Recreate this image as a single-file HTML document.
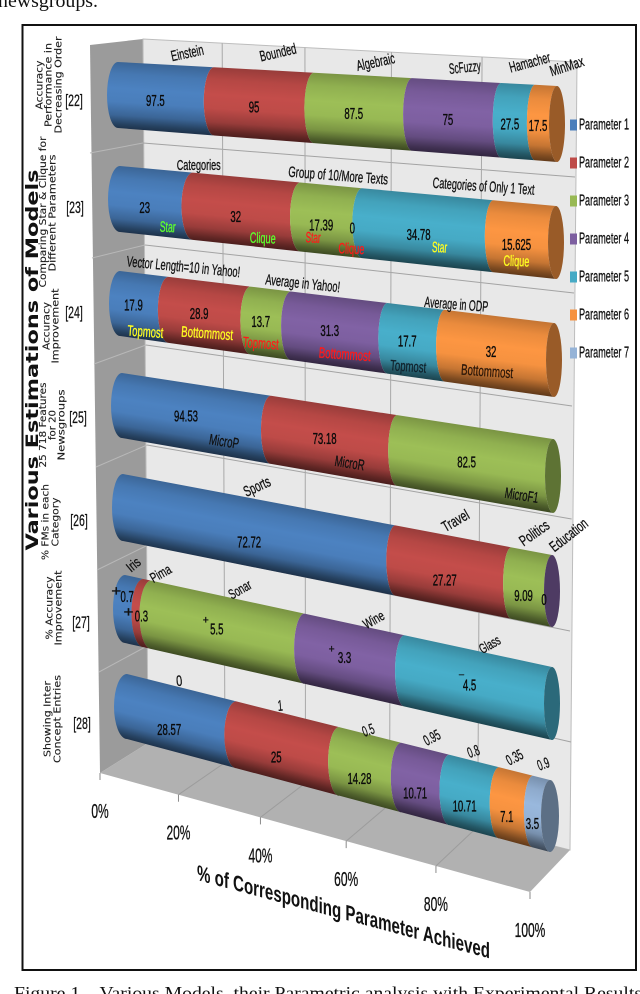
<!DOCTYPE html>
<html lang="en">
<head>
<meta charset="utf-8">
<title>Various Estimations of Models</title>
<style>
  html, body { margin: 0; padding: 0; background: #fff; }
  #stage { display: block; width: 640px; height: 994px; overflow: hidden; }
  text { font-family: "Liberation Sans", sans-serif; fill: #111; }
  .rowtitle { font-family: "DejaVu Sans", sans-serif; font-size: 9.6px; fill: #1c1c1c; stroke: #1c1c1c; stroke-width: 0.12px; text-anchor: middle; }
  .serif { font-family: "Liberation Serif", serif; fill: #111; }
</style>
</head>
<body>
<svg id="stage" xmlns="http://www.w3.org/2000/svg" width="640" height="994" viewBox="0 0 640 994">
  <defs id="defs"></defs>
  <text class="serif" x="-2" y="7" font-size="19" textLength="100" lengthAdjust="spacingAndGlyphs">newsgroups.</text>
  <rect x="22.5" y="25" width="613.5" height="945" fill="#fff" stroke="#111" stroke-width="2"/>

  <g id="plot-back"></g>
  <g id="plot-rows"></g>
  <g id="plot-text"></g>
  <g id="legend"></g>

  <text transform="translate(38,360) rotate(-90)" style="font-family:'DejaVu Sans',sans-serif" font-size="17" font-weight="700" text-anchor="middle" textLength="381" lengthAdjust="spacingAndGlyphs">Various Estimations of Models</text>

  <g>
    <text class="rowtitle" transform="translate(42.5,85) rotate(-90)" textLength="49" lengthAdjust="spacingAndGlyphs">Accuracy</text>
    <text class="rowtitle" transform="translate(51.5,85) rotate(-90)" textLength="84" lengthAdjust="spacingAndGlyphs">Performance in</text>
    <text class="rowtitle" transform="translate(61.5,85) rotate(-90)" textLength="97" lengthAdjust="spacingAndGlyphs">Decreasing Order</text>
  </g>
  <g>
    <text class="rowtitle" transform="translate(46,212) rotate(-90)" textLength="151" lengthAdjust="spacingAndGlyphs">Comparing Star &amp; Clique for</text>
    <text class="rowtitle" transform="translate(55.5,213) rotate(-90)" textLength="117" lengthAdjust="spacingAndGlyphs">Different Parameters</text>
  </g>
  <g>
    <text class="rowtitle" transform="translate(49.5,326) rotate(-90)" textLength="48" lengthAdjust="spacingAndGlyphs">Accuracy</text>
    <text class="rowtitle" transform="translate(58.5,326) rotate(-90)" textLength="75" lengthAdjust="spacingAndGlyphs">Improvement</text>
  </g>
  <g>
    <text class="rowtitle" transform="translate(46,425) rotate(-90)" textLength="85" lengthAdjust="spacingAndGlyphs">25 718 Features</text>
    <text class="rowtitle" transform="translate(55.5,425) rotate(-90)" textLength="30" lengthAdjust="spacingAndGlyphs">for 20</text>
    <text class="rowtitle" transform="translate(64.5,425) rotate(-90)" textLength="71" lengthAdjust="spacingAndGlyphs">Newsgroups</text>
  </g>
  <g>
    <text class="rowtitle" transform="translate(48.5,522) rotate(-90)" textLength="76" lengthAdjust="spacingAndGlyphs">% FMs in each</text>
    <text class="rowtitle" transform="translate(58.5,522) rotate(-90)" textLength="49" lengthAdjust="spacingAndGlyphs">Category</text>
  </g>
  <g>
    <text class="rowtitle" transform="translate(52.5,608) rotate(-90)" textLength="63" lengthAdjust="spacingAndGlyphs">% Accuracy</text>
    <text class="rowtitle" transform="translate(61.5,608) rotate(-90)" textLength="75" lengthAdjust="spacingAndGlyphs">Improvement</text>
  </g>
  <g>
    <text class="rowtitle" transform="translate(50.5,719) rotate(-90)" textLength="76" lengthAdjust="spacingAndGlyphs">Showing Inter</text>
    <text class="rowtitle" transform="translate(60.5,719) rotate(-90)" textLength="88" lengthAdjust="spacingAndGlyphs">Concept Entries</text>
  </g>

  <text transform="translate(197,880) skewY(15)" font-size="22" font-weight="700" textLength="293" lengthAdjust="spacingAndGlyphs">% of Corresponding Parameter Achieved</text>

  <text class="serif" x="14" y="999" font-size="18" textLength="628" lengthAdjust="spacingAndGlyphs" xml:space="preserve">Figure 1.   Various Models, their Parametric analysis with Experimental Results</text>

<script>
// ---------- chart data ----------
const seriesNames = ['Parameter 1','Parameter 2','Parameter 3','Parameter 4','Parameter 5','Parameter 6','Parameter 7'];
const xTickLabels = ['0%','20%','40%','60%','80%','100%'];
const xTickFractions = [0, 0.2, 0.4, 0.6, 0.8, 1];
const rowRefs = ['[22]','[23]','[24]','[25]','[26]','[27]','[28]'];

const row22Values = [97.5, 95, 87.5, 75, 27.5, 17.5];
const row23Values = [23, 32, 17.39, 0, 34.78, 15.625];
const row24Values = [17.9, 28.9, 13.7, 31.3, 17.7, 32];
const row25Values = [94.53, 73.18, 82.5];
const row26Values = [72.72, 27.27, 9.09, 0];
const row27Values = [0.7, 0.3, 5.5, 3.3, 4.5];
const row28Values = [28.57, 25, 14.28, 10.71, 10.71, 7.1, 3.5];

const row22Categories = ['Einstein','Bounded','Algebraic','ScFuzzy','Hamacher','MinMax'];
const row23Groups = ['Categories','Group of 10/More Texts','Categories of Only 1 Text'];
const row23Marks = ['Star','Clique','Star','Clique','Star','Clique'];
const row24Groups = ['Vector Length=10 in Yahoo!','Average in Yahoo!','Average in ODP'];
const row24Marks = ['Topmost','Bottommost','Topmost','Bottommost','Topmost','Bottommost'];
const row25Marks = ['MicroP','MicroR','MicroF1'];
const row26Categories = ['Sports','Travel','Politics','Education'];
const row27Categories = ['Iris','Pima','Sonar','Wine','Glass'];
const row27Signs = ['+','+','+','+','¯'];
const row28Categories = ['0','1','0.5','0.95','0.8','0.35','0.9'];

// ---------- layout (not data) ----------
const palette = ['#4a7ebb','#be4b48','#98b954','#7d5fa0','#46aac5','#f69240','#95b3d7'];
const rowLayout = [
  {xL:118,topL:62, botL:128,xR:557,topR:86, botR:162,rxL:11,rxR:8,dy:3,  refX:74,refY:100},
  {xL:120,topL:166,botL:232,xR:556,topR:206,botR:279,rxL:12,rxR:8,dy:6,  refX:75,refY:207},
  {xL:120,topL:271,botL:336,xR:554,topR:323,botR:397,rxL:11,rxR:8,dy:0,  refX:74,refY:312},
  {xL:122,topL:373,botL:438,xR:553,topR:439,botR:513,rxL:11,rxR:8,dy:0,  refX:78,refY:417},
  {xL:123,topL:474,botL:541,xR:552,topR:555,botR:627,rxL:11,rxR:8,dy:10, refX:79,refY:520},
  {xL:125,topL:575,botL:643,xR:552,topR:667,botR:740,rxL:12,rxR:8,dy:0,  refX:81,refY:622},
  {xL:127,topL:674,botL:739,xR:550,topR:780,botR:852,rxL:13,rxR:9,dy:12, refX:82,refY:723}
];
// extra label displacement for the two thin segments at the start of row [27]
const row27LabelNudge = [[5,-12],[6,5]];
const PERSPECTIVE = 1.15;
const FLOOR_PERSPECTIVE = 1.12;

const svg = document.getElementById('stage');
const NS = 'http://www.w3.org/2000/svg';
const defs = document.getElementById('defs');
const backLayer = document.getElementById('plot-back');
const rowLayer = document.getElementById('plot-rows');
const textLayer = document.getElementById('plot-text');
const legendLayer = document.getElementById('legend');

function make(tag, parent, name, attrs) {
  const el = document.createElementNS(NS, tag);
  
  
  for (const k in attrs) el.setAttribute(k, attrs[k]);
  parent.appendChild(el);
  return el;
}
function shade(hex, f) {
  const n = parseInt(hex.slice(1), 16);
  const c = [n >> 16, (n >> 8) & 255, n & 255].map(v => Math.max(0, Math.min(255, Math.round(v * f))));
  return 'rgb(' + c.join(',') + ')';
}
function lerp(a, b, f) { return a + (b - a) * f; }
function persp(t, k) { return t / (t + k * (1 - t)); }
function ink(el, color, w) {
  el.style.fill = color;
  el.style.stroke = color;
  el.style.strokeWidth = w + 'px';
}

// row axis: cumulative share -> screen geometry of the cylinder cross-section
function rowPoint(r, t) {
  const f = persp(t, PERSPECTIVE);
  return {
    x: lerp(r.xL, r.xR, f),
    top: lerp(r.topL, r.topR, f),
    bot: lerp(r.botL, r.botR, f),
    rx: lerp(r.rxL, r.rxR, f)
  };
}

// ---------- background: walls, floor, gridlines ----------
const wallBack = {xT0:143,yT0:39,xT1:577,yT1:62,xB0:148,yB0:743,xB1:570,yB1:850};
const floorFront = {x0:100,y0:773,x1:530,y1:892};
make('polygon', backLayer, 'side-wall', {points:'90,45 143,39 148,743 100,773', fill:'#9b9b9b'});
make('polygon', backLayer, 'back-wall', {points:'143,39 577,62 570,850 148,743', fill:'#e8e8e8', stroke:'#bdbdbd', 'stroke-width':1});
make('polygon', backLayer, 'floor', {points:'100,773 148,743 570,850 530,892', fill:'#b1b1b1'});

const dividerLeft = [[90,153,143,143],[92,258,145,245],[94,364,146,345],[96,467,147,445],[97,570,148,545],[99,672,149,645]];
const dividerRight = [[575,177],[574,293],[572,406],[571.6,519],[570,631],[571,742]];
dividerLeft.forEach(function (d, i) {
  make('line', backLayer, 'side-wall-divider', {x1:d[0], y1:d[1], x2:d[2], y2:d[3], stroke:'#b8b8b8', 'stroke-width':1});
  make('line', backLayer, 'back-wall-divider', {x1:d[2], y1:d[3], x2:dividerRight[i][0], y2:dividerRight[i][1], stroke:'#a3a3a3', 'stroke-width':1});
});

xTickFractions.forEach(function (v, i) {
  const f = persp(v, FLOOR_PERSPECTIVE);
  const topX = lerp(wallBack.xT0, wallBack.xT1, f), topY = lerp(wallBack.yT0, wallBack.yT1, f);
  const backX = lerp(wallBack.xB0, wallBack.xB1, f), backY = lerp(wallBack.yB0, wallBack.yB1, f);
  const frontX = lerp(floorFront.x0, floorFront.x1, f), frontY = lerp(floorFront.y0, floorFront.y1, f);
  if (i > 0 && i < xTickFractions.length - 1) {
    make('line', backLayer, 'wall-gridline', {x1:topX, y1:topY, x2:backX, y2:backY, stroke:'#a8a8a8', 'stroke-width':1});
    make('line', backLayer, 'floor-gridline', {x1:backX, y1:backY, x2:frontX, y2:frontY, stroke:'#9c9c9c', 'stroke-width':1});
  }
  make('line', backLayer, 'x-tick', {x1:frontX, y1:frontY, x2:frontX, y2:frontY + 7, stroke:'#8a8a8a', 'stroke-width':1});
  const lab = make('text', textLayer, 'x-tick-label', {
    transform:'translate(' + frontX + ',' + (frontY + 45) + ') scale(0.6,1)',
    'font-size':20, 'text-anchor':'middle'
  });
  ink(lab, '#111', 0.3);
  lab.textContent = xTickLabels[i];
});

// ---------- stacked cylinders ----------
const centers = [];
let gradId = 0;
function drawRow(rowIndex, values, nudge) {
  const r = rowLayout[rowIndex];
  const total = values.reduce((a, b) => a + b, 0);
  const group = make('g', rowLayer, 'row-' + (22 + rowIndex), {});
  const rowCenters = [];
  let cum = 0;
  values.forEach(function (v, i) {
    const p0 = rowPoint(r, cum / total);
    cum += v;
    const p1 = rowPoint(r, cum / total);
    const axisAngle = Math.atan2((r.topR + r.botR - r.topL - r.botL) / 2, r.xR - r.xL);
    const mx = (p0.x + p1.x) / 2, mt = (p0.top + p1.top) / 2, mb = (p0.bot + p1.bot) / 2, h = mb - mt;
    const midRx = (p0.rx + p1.rx) / 2;
    const cx = mx - midRx;
    const cf = (cx - r.xL) / (r.xR - r.xL);
    const cTop = lerp(r.topL, r.topR, cf), cBot = lerp(r.botL, r.botR, cf);
    const nd = (nudge && nudge[i]) || [0, 0];
    rowCenters.push({x: cx + nd[0], y: (cTop + cBot) / 2 + r.dy + nd[1]});
    if (v > 0) {
      const id = 'seg-grad-' + (gradId++);
      const sin = Math.sin(axisAngle), cos = Math.cos(axisAngle);
      const grad = make('linearGradient', defs, 'segment-shading', {
        id: id, gradientUnits: 'userSpaceOnUse',
        x1: mx, y1: mt, x2: mx - sin * h * cos, y2: mt + cos * h * cos
      });
      [[0,0.80],[0.18,0.95],[0.4,1.03],[0.6,1.0],[0.8,0.80],[0.93,0.52],[1,0.40]].forEach(function (s) {
        const st = document.createElementNS(NS, 'stop');
        st.setAttribute('offset', s[0]);
        st.setAttribute('stop-color', shade(palette[i], s[1]));
        grad.appendChild(st);
      });
      const d = 'M' + p0.x + ',' + p0.top +
        ' A' + p0.rx + ',' + ((p0.bot - p0.top) / 2) + ' 0 0 0 ' + p0.x + ',' + p0.bot +
        ' L' + p1.x + ',' + p1.bot +
        ' A' + p1.rx + ',' + ((p1.bot - p1.top) / 2) + ' 0 0 1 ' + p1.x + ',' + p1.top + ' Z';
      make('path', group, 'segment-' + seriesNames[i].toLowerCase().replace(' ', '-'), {d: d, fill: 'url(#' + id + ')'});
    }
  });
  const last = values.length - 1;
  make('ellipse', group, 'cylinder-end-cap', {
    cx: r.xR, cy: (r.topR + r.botR) / 2, rx: r.rxR, ry: (r.botR - r.topR) / 2,
    fill: shade(palette[last], 0.62)
  });
  values.forEach(function (v, i) {
    const c = rowCenters[i];
    const t = make('text', textLayer, 'value-label', {
      transform: 'translate(' + c.x + ',' + c.y + ') scale(0.62,1)',
      'font-size': 15.5, 'text-anchor': 'middle', 'dominant-baseline': 'central'
    });
    ink(t, '#0a0a0a', 0.35);
    t.textContent = String(v);
  });
  centers.push(rowCenters);
  const ref = make('text', textLayer, 'row-reference', {
    transform: 'translate(' + r.refX + ',' + r.refY + ') scale(0.62,1)',
    'font-size': 17, 'text-anchor': 'middle', 'dominant-baseline': 'central'
  });
  ink(ref, '#111', 0.25);
  ref.textContent = rowRefs[rowIndex];
}
drawRow(0, row22Values);
drawRow(1, row23Values);
drawRow(2, row24Values);
drawRow(3, row25Values);
drawRow(4, row26Values);
drawRow(5, row27Values, row27LabelNudge);
drawRow(6, row28Values);

// annotation anchored to a segment's value position
function note(rowIndex, segIndex, label, name, dx, dy, rot, width, size, color) {
  const c = centers[rowIndex][segIndex];
  const t = make('text', textLayer, name, {
    transform: 'translate(' + (c.x + dx) + ',' + (c.y + dy) + ') rotate(' + rot + ')',
    'font-size': size, 'text-anchor': 'middle', 'dominant-baseline': 'central',
    textLength: width, lengthAdjust: 'spacingAndGlyphs'
  });
  ink(t, color, 0.3);
  t.textContent = label;
}

const row22Place = [[32,-47,-12,33],[24,-54,-13,37],[22,-51,-12,39],[17,-52,-6,32],[20,-61,-15,42],[29,-59,-18,35]];
row22Categories.forEach((s, i) => note(0, i, s, 'category-label', row22Place[i][0], row22Place[i][1], row22Place[i][2], row22Place[i][3], 15, '#111'));

const groupSegments = [0, 2, 4];
const row23GroupPlace = [[54,-42,0,44],[17,-49,4.5,100],[65,-48,4,102]];
row23Groups.forEach((s, i) => note(1, groupSegments[i], s, 'group-label', row23GroupPlace[i][0], row23GroupPlace[i][1], row23GroupPlace[i][2], row23GroupPlace[i][3], 15, '#111'));
const row23MarkPlace = [[23,20,16,'#5dff2e'],[27,22,26,'#5dff2e'],[-8,13,15,'#ff1a1a'],[-1,21,26,'#ff1a1a'],[21,13,15,'#ffff22'],[0,17,26,'#ffff22']];
row23Marks.forEach((s, i) => note(1, i, s, 'model-type-label', row23MarkPlace[i][0], row23MarkPlace[i][1], 2, row23MarkPlace[i][2], 15, row23MarkPlace[i][3]));

const row24GroupPlace = [[50,-38,5.5,114],[42,-38,6,75],[49,-36,4.5,64]];
row24Groups.forEach((s, i) => note(2, groupSegments[i], s, 'group-label', row24GroupPlace[i][0], row24GroupPlace[i][1], row24GroupPlace[i][2], row24GroupPlace[i][3], 15, '#111'));
const row24MarkPlace = [[12,27,36,'#ffff22'],[8,20,52,'#ffff22'],[0,22,36,'#ff1a1a'],[15,24,52,'#ff1a1a'],[1,26,36,'#10222c'],[-4,20,52,'#2a1608']];
row24Marks.forEach((s, i) => note(2, i, s, 'position-label', row24MarkPlace[i][0], row24MarkPlace[i][1], 4, row24MarkPlace[i][2], 15, row24MarkPlace[i][3]));

const row25Place = [[38,26,30],[25,25,30],[55,34,34]];
row25Marks.forEach((s, i) => note(3, i, s, 'metric-label', row25Place[i][0], row25Place[i][1], 9, row25Place[i][2], 15, '#111'));

const row26Place = [[8,-55,-25,28],[11,-59,-30,29],[11,-62,-35,33],[25,-64,-38,44]];
row26Categories.forEach((s, i) => note(4, i, s, 'category-label', row26Place[i][0], row26Place[i][1], row26Place[i][2], row26Place[i][3], 15, '#111'));

const row27Place = [[6,-32,-40,14],[19,-43,-30,22],[23,-40,-30,24],[29,-38,-30,22],[20,-41,-30,22]];
row27Categories.forEach((s, i) => note(5, i, s, 'dataset-label', row27Place[i][0], row27Place[i][1], row27Place[i][2], row27Place[i][3], 14, '#111'));
const row27SignPlace = [[-11,-5,10,15],[-13,-4,10,15],[-11,-9,6,11],[-13,-8,6,11],[-8,-5,5,11]];
row27Signs.forEach((s, i) => note(5, i, s, 'sign-marker', row27SignPlace[i][0], row27SignPlace[i][1], 0, row27SignPlace[i][2], row27SignPlace[i][3], '#111'));

const row28Place = [[10,-48,-5,6],[4,-51,-5,5],[9,-48,-20,12],[17,-55,-28,17],[9,-54,-20,12],[8,-59,-28,17],[11,-59,-20,12]];
row28Categories.forEach((s, i) => note(6, i, s, 'inter-concept-label', row28Place[i][0], row28Place[i][1], row28Place[i][2], row28Place[i][3], 15, '#111'));

// ---------- legend ----------
seriesNames.forEach(function (s, i) {
  const y = 125 + 38 * i;
  make('rect', legendLayer, 'legend-swatch', {x: 570, y: y - 5.5, width: 7, height: 11, fill: palette[i]});
  const t = make('text', legendLayer, 'legend-entry', {
    x: 579, y: y, 'font-size': 15.5, 'dominant-baseline': 'central',
    textLength: 50, lengthAdjust: 'spacingAndGlyphs'
  });
  ink(t, '#111', 0.3);
  t.textContent = s;
});
</script>
</svg>
</body>
</html>
